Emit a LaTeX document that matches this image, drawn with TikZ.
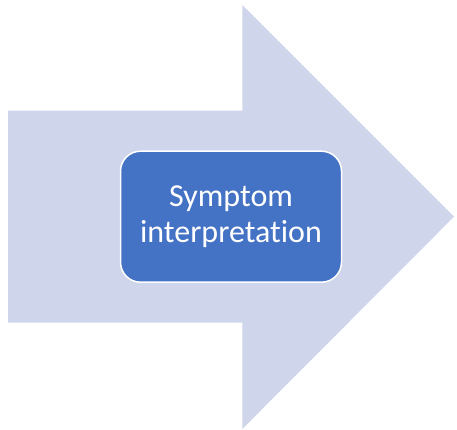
\documentclass[tikz,border=0pt]{standalone}
\usepackage{fontspec}
\setmainfont{Carlito}[Ligatures={NoCommon}]
\definecolor{arrowfill}{HTML}{CFD5EA}
\definecolor{boxfill}{HTML}{4472C4}
\tikzset{
  bigarrow/.style={fill=arrowfill, draw=none},
  stepbox/.style={fill=boxfill, draw=white, line width=1.5pt, rounded corners=20pt,
    text=white, align=center, minimum width=221pt, minimum height=131pt, inner sep=0pt,
    font=\fontsize{32}{35}\selectfont}
}
\begin{document}
\begin{tikzpicture}[x=1pt,y=1pt]
\useasboundingbox (0,0) rectangle (457,430);
\fill[bigarrow] (8,319.3) -- (242.3,319.3) -- (242.3,425) -- (454,213.3) -- (242.3,1) -- (242.3,107.3) -- (8,107.3) -- cycle;
\node[stepbox] (box) at (231,213.3) {Symptom\\interpretation};
\end{tikzpicture}
\end{document}
